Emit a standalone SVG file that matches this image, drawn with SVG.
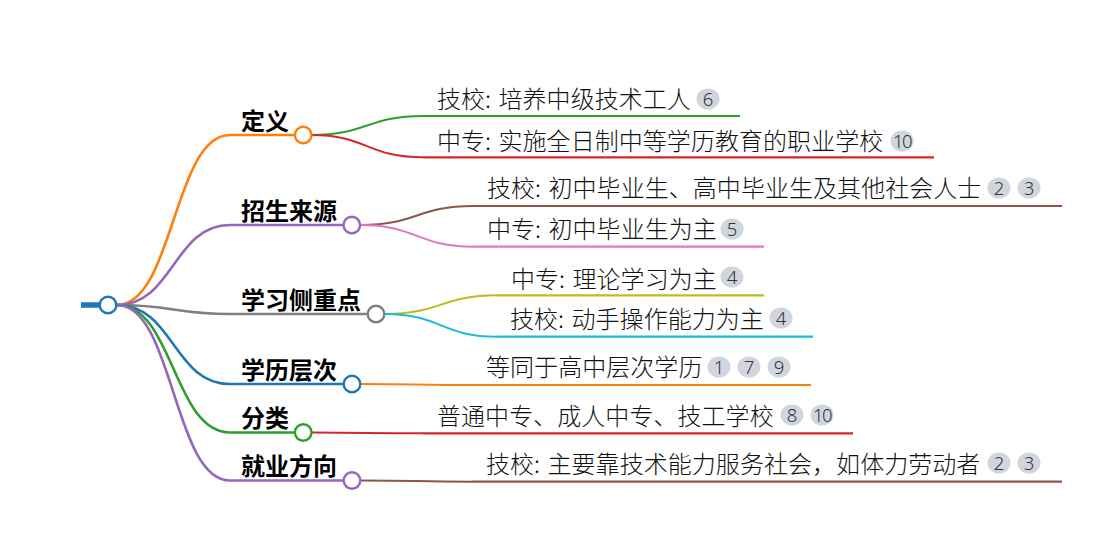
<svg xmlns="http://www.w3.org/2000/svg" width="1110" height="536" viewBox="0 0 1110 536">
<style>
.l1{font-family:"Noto Sans CJK SC","Noto Sans",sans-serif;font-size:24px;font-weight:bold;fill:#000}
.l2{font-family:"Noto Sans CJK SC","Noto Sans",sans-serif;font-size:24px;font-weight:300;fill:#111;letter-spacing:0.05px}
.b{fill:#d1d5de}
.bt{font-family:"Noto Sans","Liberation Sans",sans-serif;font-size:18.5px;font-weight:300;fill:#333;text-anchor:middle}
.lk{fill:none;stroke-width:2.6}
.lk2{fill:none;stroke-width:2}
.ul{stroke-width:2.6}
.ul2{stroke-width:2.2}
.c{fill:#fff;stroke-width:2.4}
</style>
<g id="connectors">
<path class="lk" stroke="#ff7f0e" d="M117 305 C173.5 305 173.5 135 230 135"/>
<path class="lk" stroke="#9467bd" d="M117 305 C173.5 305 173.5 225 230 225"/>
<path class="lk" stroke="#7f7f7f" d="M117 305 C173.5 305 173.5 314 230 314"/>
<path class="lk" stroke="#1f77b4" d="M117 305 C173.5 305 173.5 384 230 384"/>
<path class="lk" stroke="#2ca02c" d="M117 305 C173.5 305 173.5 432.5 230 432.5"/>
<path class="lk" stroke="#9467bd" d="M117 305 C173.5 305 173.5 480.5 230 480.5"/>
<path class="lk2" stroke="#2ca02c" d="M311.5 135 C367 135 367 116 423 116"/>
<path class="lk2" stroke="#d62728" d="M311.5 135 C367 135 367 157.3 423 157.3"/>
<path class="lk2" stroke="#8c564b" d="M360.5 225 C417 225 417 206 473 206"/>
<path class="lk2" stroke="#e377c2" d="M360.5 225 C417 225 417 246.7 473 246.7"/>
<path class="lk2" stroke="#bcbd22" d="M384.5 314 C441 314 441 295.3 497 295.3"/>
<path class="lk2" stroke="#17becf" d="M384.5 314 C441 314 441 336.7 497 336.7"/>
<path class="lk2" stroke="#ff7f0e" d="M360.5 384 C416 384 416 385 472 385"/>
<path class="lk2" stroke="#d62728" d="M311.5 432.5 C367 432.5 367 433.3 423 433.3"/>
<path class="lk2" stroke="#8c564b" d="M360.5 480.5 C416 480.5 416 481.7 472 481.7"/>
</g>
<g id="root">
<line x1="81" y1="305" x2="100" y2="305" stroke="#1f77b4" stroke-width="5.5"/>
<circle class="c" cx="108" cy="305" r="8.3" stroke="#1f77b4"/>
</g>
<g id="n-dingyi">
<line class="ul" x1="230" y1="135" x2="295" y2="135" stroke="#ff7f0e"/>
<circle class="c" cx="303.2" cy="135" r="8.3" stroke="#ff7f0e"/>
<text class="l1" x="241" y="129.5">定义</text>
</g>
<g id="n-zhaosheng">
<line class="ul" x1="230" y1="225" x2="343" y2="225" stroke="#9467bd"/>
<circle class="c" cx="351.8" cy="225" r="8.3" stroke="#9467bd"/>
<text class="l1" x="241" y="219.5">招生来源</text>
</g>
<g id="n-xuexi">
<line class="ul" x1="230" y1="314" x2="367" y2="314" stroke="#7f7f7f"/>
<circle class="c" cx="376" cy="314" r="8.3" stroke="#7f7f7f"/>
<text class="l1" x="241" y="308.5">学习侧重点</text>
</g>
<g id="n-xueli">
<line class="ul" x1="230" y1="384" x2="343" y2="384" stroke="#1f77b4"/>
<circle class="c" cx="352" cy="384" r="8.3" stroke="#1f77b4"/>
<text class="l1" x="241" y="378.5">学历层次</text>
</g>
<g id="n-fenlei">
<line class="ul" x1="230" y1="432.5" x2="295" y2="432.5" stroke="#2ca02c"/>
<circle class="c" cx="303.2" cy="432.5" r="8.3" stroke="#2ca02c"/>
<text class="l1" x="241" y="427">分类</text>
</g>
<g id="n-jiuye">
<line class="ul" x1="230" y1="480.5" x2="343" y2="480.5" stroke="#9467bd"/>
<circle class="c" cx="352" cy="480.5" r="8.3" stroke="#9467bd"/>
<text class="l1" x="241" y="475">就业方向</text>
</g>
<g id="c-jixiao-def">
<line class="ul2" x1="423" y1="116" x2="740" y2="116" stroke="#2ca02c"/>
<text class="l2" x="437" y="108.3">技校:<tspan dx="2"> 培养中级技术工人</tspan></text>
<ellipse class="b" cx="708" cy="99" rx="11.5" ry="10.5"/><text class="bt" x="708" y="105.5">6</text>
</g>
<g id="c-zhongzhuan-def">
<line class="ul2" x1="423" y1="157.3" x2="934" y2="157.3" stroke="#d62728"/>
<text class="l2" x="437" y="149.5">中专:<tspan dx="2"> 实施全日制中等学历教育的职业学校</tspan></text>
<ellipse class="b" cx="902" cy="141" rx="11.5" ry="10.5"/><text class="bt" x="902" y="147.5" letter-spacing="-1.5">10</text>
</g>
<g id="c-jixiao-src">
<line class="ul2" x1="473" y1="206" x2="1062" y2="206" stroke="#8c564b"/>
<text class="l2" x="487" y="197">技校:<tspan dx="2"> 初中毕业生、高中毕业生及其他社会人士</tspan></text>
<ellipse class="b" cx="999" cy="188" rx="11.5" ry="10.5"/><text class="bt" x="999" y="194.5">2</text>
<ellipse class="b" cx="1029" cy="188" rx="11.5" ry="10.5"/><text class="bt" x="1029" y="194.5">3</text>
</g>
<g id="c-zhongzhuan-src">
<line class="ul2" x1="473" y1="246.7" x2="764" y2="246.7" stroke="#e377c2"/>
<text class="l2" x="487" y="238">中专:<tspan dx="2"> 初中毕业生为主</tspan></text>
<ellipse class="b" cx="732" cy="229" rx="11.5" ry="10.5"/><text class="bt" x="732" y="235.5">5</text>
</g>
<g id="c-zhongzhuan-focus">
<line class="ul2" x1="497" y1="295.3" x2="764" y2="295.3" stroke="#bcbd22"/>
<text class="l2" x="511" y="287.8">中专:<tspan dx="2"> 理论学习为主</tspan></text>
<ellipse class="b" cx="732" cy="277" rx="11.5" ry="10.5"/><text class="bt" x="732" y="283.5">4</text>
</g>
<g id="c-jixiao-focus">
<line class="ul2" x1="497" y1="336.7" x2="813" y2="336.7" stroke="#17becf"/>
<text class="l2" x="510" y="328">技校:<tspan dx="2"> 动手操作能力为主</tspan></text>
<ellipse class="b" cx="781" cy="318" rx="11.5" ry="10.5"/><text class="bt" x="781" y="324.5">4</text>
</g>
<g id="c-level">
<line class="ul2" x1="472" y1="385" x2="811" y2="385" stroke="#ff7f0e"/>
<text class="l2" x="486" y="376">等同于高中层次学历</text>
<ellipse class="b" cx="719" cy="367" rx="11.5" ry="10.5"/><text class="bt" x="719" y="373.5">1</text>
<ellipse class="b" cx="749" cy="367" rx="11.5" ry="10.5"/><text class="bt" x="749" y="373.5">7</text>
<ellipse class="b" cx="779" cy="367" rx="11.5" ry="10.5"/><text class="bt" x="779" y="373.5">9</text>
</g>
<g id="c-types">
<line class="ul2" x1="423" y1="433.3" x2="853" y2="433.3" stroke="#d62728"/>
<text class="l2" x="437" y="425">普通中专、成人中专、技工学校</text>
<ellipse class="b" cx="792" cy="415" rx="11.5" ry="10.5"/><text class="bt" x="792" y="421.5">8</text>
<ellipse class="b" cx="822" cy="415" rx="11.5" ry="10.5"/><text class="bt" x="822" y="421.5" letter-spacing="-1.5">10</text>
</g>
<g id="c-jobs">
<line class="ul2" x1="472" y1="481.7" x2="1062" y2="481.7" stroke="#8c564b"/>
<text class="l2" x="486" y="473">技校:<tspan dx="2"> 主要靠技术能力服务社会，如体力劳动者</tspan></text>
<ellipse class="b" cx="999" cy="463" rx="11.5" ry="10.5"/><text class="bt" x="999" y="469.5">2</text>
<ellipse class="b" cx="1029" cy="463" rx="11.5" ry="10.5"/><text class="bt" x="1029" y="469.5">3</text>
</g>
</svg>
